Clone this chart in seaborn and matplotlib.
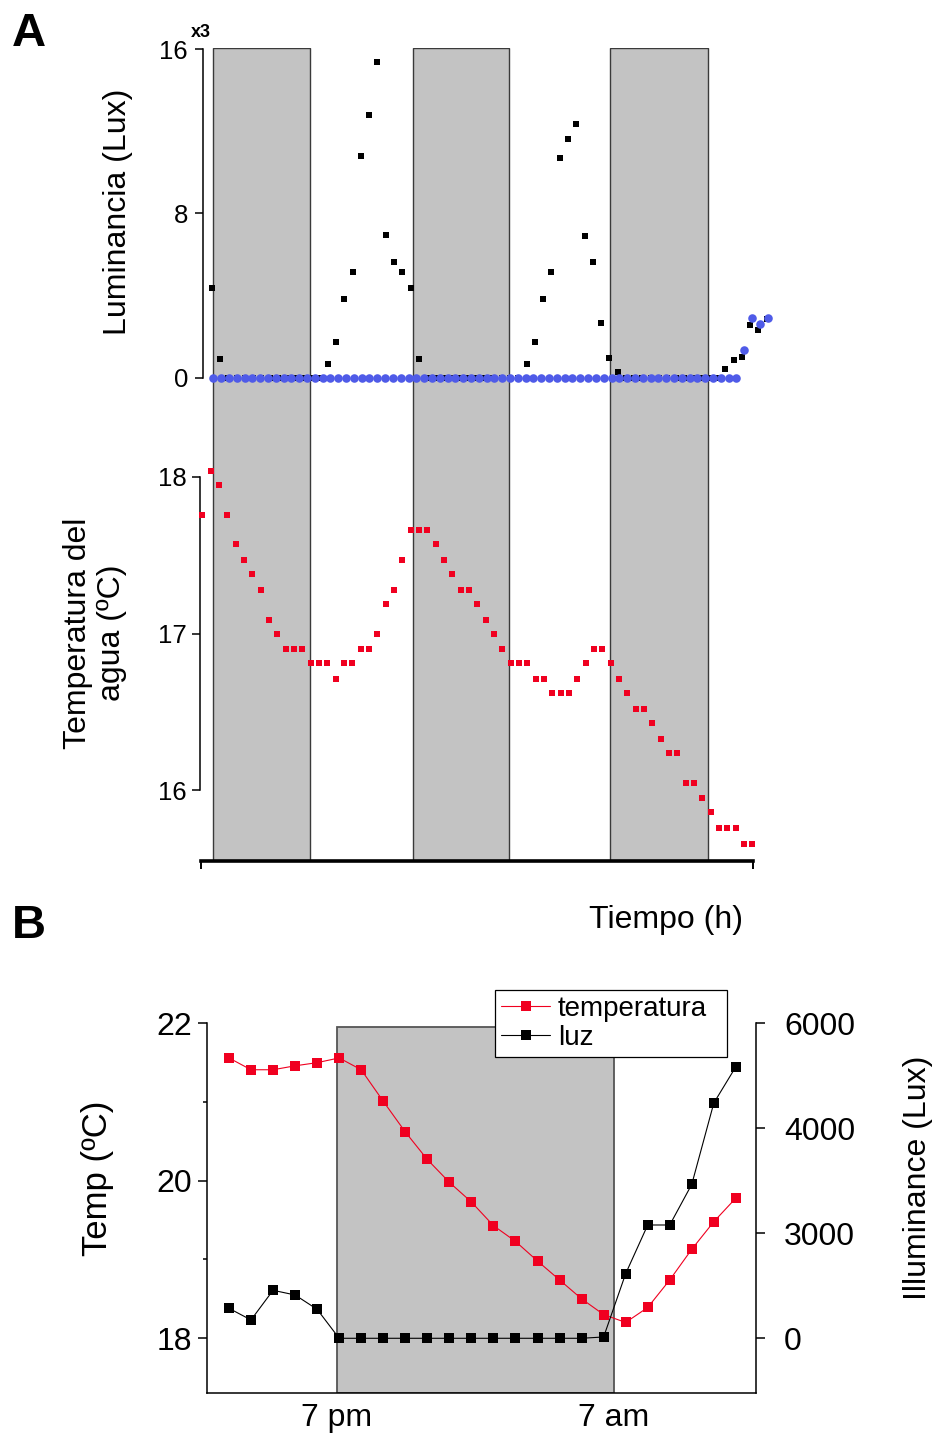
import numpy as np
import matplotlib
matplotlib.use('Agg')
import matplotlib.pyplot as plt
import seaborn as sns
from matplotlib.lines import Line2D

sns.set_style('ticks')
plt.rcParams['font.family'] = ['Liberation Sans', 'DejaVu Sans']
for k in ['text.color', 'axes.labelcolor', 'xtick.color', 'ytick.color', 'axes.edgecolor']:
    plt.rcParams[k] = 'black'

RED = '#F00020'
BLUE = '#4F5BE8'
GRAY = '#C3C3C3'

# ---------------- Panel A data ----------------
temp_hours = np.arange(-1, 66)           # hourly samples of water temperature
temp_water = [17.76, 18.04, 17.95, 17.76, 17.57, 17.47, 17.38, 17.28, 17.09, 17.00,
              16.90, 16.90, 16.90, 16.81, 16.81, 16.81, 16.71, 16.81, 16.81, 16.90,
              16.90, 17.00, 17.19, 17.28, 17.47, 17.66, 17.66, 17.66, 17.57, 17.47,
              17.38, 17.28, 17.28, 17.19, 17.09, 17.00, 16.90, 16.81, 16.81, 16.81,
              16.71, 16.71, 16.62, 16.62, 16.62, 16.71, 16.81, 16.90, 16.90, 16.81,
              16.71, 16.62, 16.52, 16.52, 16.43, 16.33, 16.24, 16.24, 16.05, 16.05,
              15.95, 15.86, 15.76, 15.76, 15.76, 15.66, 15.66]

# luminance (x1000 lux), sensor 1 (black)
lux_black = [4.37, 0.89, 0, 0, 0, 0, 0, 0, 0, 0, 0, 0, 0, 0,
             0.68, 1.72, 3.85, 5.12, 10.77, 12.80, 15.37, 6.92, 5.63, 5.12, 4.37, 0.89,
             0, 0, 0, 0, 0, 0, 0, 0, 0, 0, 0, 0,
             0.68, 1.72, 3.85, 5.12, 10.67, 11.60, 12.36, 6.90, 5.63, 2.68, 0.96, 0.27,
             0, 0, 0, 0, 0, 0, 0, 0, 0, 0, 0, 0,
             0.42, 0.86, 1.02, 2.56, 2.30, 2.84]
lux_black_t0, lux_black_dt = 0.13, 0.9941

# luminance (x1000 lux), sensor 2 (blue)
lux_blue = [0, 0, 0, 0, 0, 0, 0, 0, 0, 0, 0, 0, 0, 0, 0, 0, 0,
            0, 0, 0, 0, 0, 0, 0, 0, 0, 0, 0, 0, 0, 0, 0, 0, 0,
            0, 0, 0, 0, 0, 0, 0, 0, 0, 0, 0, 0, 0, 0, 0, 0, 0,
            0, 0, 0, 0, 0, 0, 0, 0, 0, 0, 0, 0, 0, 0, 0, 0, 0,
            1.33, 2.92, 2.63, 2.92]
lux_blue_t0, lux_blue_dt = 0.32, 0.937

night_A = [(0.32, 11.92), (24.25, 35.84), (47.93, 59.72)]
lux_ticks = [0, 8, 16]
lux_ticklabels = ['0', '8', '16']
tempA_ticks = [16, 17, 18]
tempA_ticklabels = ['16', '17', '18']

# ---------------- Panel B data ----------------
b_index = np.arange(24)
b_temp = [21.56, 21.41, 21.41, 21.46, 21.50, 21.56, 21.41, 21.01, 20.62, 20.27,
          19.98, 19.73, 19.43, 19.23, 18.98, 18.74, 18.50, 18.30, 18.20, 18.39,
          18.74, 19.13, 19.48, 19.78]
b_luz = [571, 349, 914, 825, 552, 0, 0, 0, 0, 0, 0, 0, 0, 0, 0, 0, 0,
         25, 1231, 2158, 2158, 2933, 4482, 5173]
b_night = (4.89, 17.47)
b_xticks = [4.89, 17.47]
b_xticklabels = ['7 pm', '7 am']
b_temp_ticks = [18, 20, 22]
b_temp_minor = [19, 21]
b_luz_ticks = [0, 2000, 4000, 6000]
b_luz_ticklabels = ['0', '3000', '4000', '6000']

# ---------------- Figure ----------------
W, H = 935, 1439
fig = plt.figure(figsize=(W / 100, H / 100), dpi=100)


def rect(l, t, r, b):
    return [l / W, 1 - b / H, (r - l) / W, (b - t) / H]


# ===== Panel A =====
axA = fig.add_axes(rect(201, 48, 753.3, 860.5))
for x0, x1 in night_A:
    axA.axvspan(x0, x1, facecolor=GRAY, edgecolor='#3a3a3a', lw=1.0, zorder=0)

tb = lux_black_t0 + lux_black_dt * np.arange(len(lux_black))
tbl = lux_blue_t0 + lux_blue_dt * np.arange(len(lux_blue))
sns.scatterplot(x=tb, y=lux_black, marker='s', s=20, color='black',
                linewidth=0, ax=axA, zorder=3, clip_on=False)
sns.scatterplot(x=tbl, y=lux_blue, marker='o', s=38, color=BLUE,
                linewidth=0, ax=axA, zorder=4, clip_on=False)
axA.set_xlim(-1.156, 65.12)
axA.set_ylim(-23.52, 16.05)
axA.set_xlabel('')
axA.set_ylabel('')
for s in ['top', 'right']:
    axA.spines[s].set_visible(False)
axA.spines['left'].set_bounds(0, 16)
axA.spines['left'].set_position(('axes', 2 / 552))
axA.spines['left'].set_linewidth(1.1)
axA.spines['bottom'].set_linewidth(2.6)
axA.set_yticks(lux_ticks)
axA.set_yticklabels(lux_ticklabels)
axA.set_xticks([-1.156, 65.12])
axA.set_xticklabels(['', ''])
axA.tick_params(axis='y', length=5.8, width=1.1, direction='out', pad=5, labelsize=18.5)
axA.tick_params(axis='x', length=5.8, width=1.4, direction='out')

axT = axA.twinx()
sns.scatterplot(x=temp_hours, y=temp_water, marker='s', s=20, color=RED,
                linewidth=0, ax=axT, zorder=3, clip_on=False)
axT.set_ylim(15.553, 20.737)
axT.set_xlim(-1.156, 65.12)
axT.set_xlabel('')
axT.set_ylabel('')
for s in ['top', 'right', 'bottom']:
    axT.spines[s].set_visible(False)
axT.spines['left'].set_visible(True)
axT.spines['left'].set_bounds(16, 18)
axT.spines['left'].set_position(('axes', -1 / 552))
axT.spines['left'].set_linewidth(1.1)
axT.yaxis.tick_left()
axT.set_yticks(tempA_ticks)
axT.set_yticklabels(tempA_ticklabels)
axT.tick_params(axis='y', length=5.8, width=1.1, direction='out', pad=4, labelsize=18.5,
                left=True, right=False, labelleft=True, labelright=False)

fig.text(12 / W, 1 - 46 / H, 'A', fontsize=34, fontweight='bold', ha='left', va='baseline')
fig.text(191 / W, 1 - 37 / H, 'x3', fontsize=13, fontweight='bold', ha='left', va='baseline')
fig.text(118 / W, 1 - 212 / H, 'Luminancia (Lux)', fontsize=23, rotation=90,
         ha='center', va='center')
fig.text(95 / W, 1 - 633 / H, 'Temperatura del\nagua (ºC)', fontsize=23, rotation=90,
         ha='center', va='center', multialignment='center')
fig.text(742.7 / W, 1 - 920 / H, 'Tiempo (h)', fontsize=23, ha='right', va='center')

# ===== Panel B =====
axB = fig.add_axes(rect(206.7, 1023.3, 755.7, 1393.3))
axB.set_xlim(-1.01, 23.9)
axB.set_ylim(17.30, 22)
axB.axvspan(b_night[0], b_night[1], ymax=(21.95 - 17.30) / (22 - 17.30),
            facecolor=GRAY, edgecolor='#555555', lw=1.3, zorder=0)
sns.lineplot(x=b_index, y=b_temp, color=RED, marker='s', markersize=7.2,
             markeredgewidth=0, linewidth=0.8, ax=axB, zorder=3)
axB.set_xlim(-1.01, 23.9)
axB.set_ylim(17.30, 22)
axB.set_xlabel('')
axB.set_ylabel('')
for s in ['top', 'right']:
    axB.spines[s].set_visible(False)
axB.spines['left'].set_linewidth(1.1)
axB.spines['bottom'].set_linewidth(1.1)
axB.set_yticks(b_temp_ticks)
axB.set_yticklabels([str(v) for v in b_temp_ticks])
axB.set_yticks(b_temp_minor, minor=True)
axB.set_xticks(b_xticks)
axB.set_xticklabels(b_xticklabels)
axB.tick_params(axis='y', which='major', length=6.5, width=1.1, pad=4, labelsize=23)
axB.tick_params(axis='y', which='minor', length=3.2, width=1.1)
axB.tick_params(axis='x', length=0, pad=7, labelsize=23)

axR = axB.twinx()
sns.lineplot(x=b_index, y=b_luz, color='black', marker='s', markersize=7.2,
             markeredgewidth=0, linewidth=0.8, ax=axR, zorder=3)
axR.set_ylim(-1048, 6000)
axR.set_xlim(-1.01, 23.9)
axR.set_xlabel('')
axR.set_ylabel('')
for s in ['top', 'left', 'bottom']:
    axR.spines[s].set_visible(False)
axR.spines['right'].set_linewidth(1.1)
axR.set_yticks(b_luz_ticks)
axR.set_yticklabels(b_luz_ticklabels)
axR.tick_params(axis='y', length=6.5, width=1.1, pad=14, labelsize=23)

handles = [Line2D([], [], color=RED, marker='s', markersize=7.2, markeredgewidth=0, lw=0.8),
           Line2D([], [], color='black', marker='s', markersize=7.2, markeredgewidth=0, lw=0.8)]
leg = axR.legend(handles, ['temperatura', 'luz'], loc='upper left',
                 bbox_to_anchor=(495 / W, 1 - 1056 / H, 232 / W, 66 / H),
                 bbox_transform=fig.transFigure, mode='expand',
                 fontsize=20, frameon=True, fancybox=False, edgecolor='black',
                 framealpha=1, borderpad=0.22, labelspacing=0.1, handlelength=1.76,
                 handletextpad=0.28, borderaxespad=0)
leg.get_frame().set_linewidth(0.9)

fig.text(12 / W, 1 - 938 / H, 'B', fontsize=34, fontweight='bold', ha='left', va='baseline')
fig.text(98 / W, 1 - 1178 / H, 'Temp (ºC)', fontsize=25, rotation=90, ha='center', va='center')
fig.text(918 / W, 1 - 1178 / H, 'Illuminance (Lux)', fontsize=23, rotation=90,
         ha='center', va='center')

fig.savefig('out.png', dpi=100)
